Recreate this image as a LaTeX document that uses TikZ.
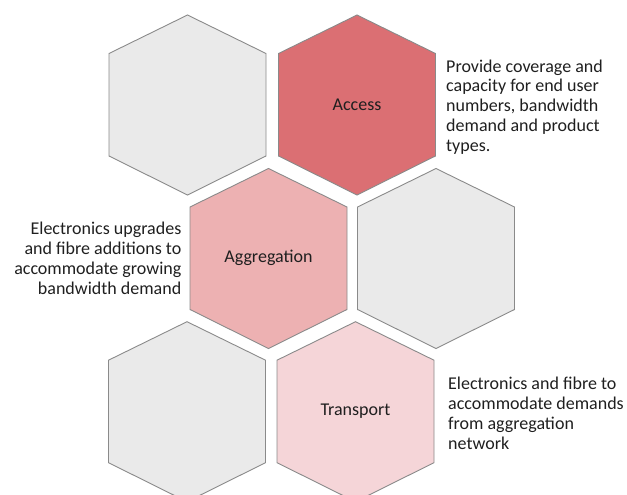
\documentclass[tikz,border=0pt]{standalone}
\usepackage{fontspec}
\setmainfont{Carlito}
\definecolor{hexgray}{HTML}{EAEAEA}
\definecolor{accessred}{HTML}{DB6F73}
\definecolor{aggpink}{HTML}{EDB1B2}
\definecolor{transpink}{HTML}{F5D5D8}
\definecolor{hexline}{HTML}{8A8A8A}
\tikzset{
  hexshape/.style={draw=hexline, line width=0.9pt, line join=miter},
  hexlabel/.style={inner sep=0pt, font=\fontsize{18}{19.7}\selectfont, text=black!88},
  desc/.style={inner sep=0pt, font=\fontsize{18}{19.7}\selectfont, text=black!88}
}
\newcommand{\hexpath}[3]{%
  \path[hexshape, fill=#3] (#1,#2-90) -- (#1+78.5,#2-51.5) -- (#1+78.5,#2+51) --
    (#1,#2+90) -- (#1-78.5,#2+51) -- (#1-78.5,#2-51.5) -- cycle;}
\begin{document}
\begin{tikzpicture}[x=1pt,y=-1pt]
\useasboundingbox (0,0) rectangle (627,495);
% row 1
\hexpath{187.5}{105}{hexgray}
\hexpath{357}{105}{accessred}
% row 2
\hexpath{268.5}{258.5}{aggpink}
\hexpath{436}{258.5}{hexgray}
% row 3
\hexpath{187}{411.7}{hexgray}
\hexpath{355.5}{411.7}{transpink}
% labels
\node[hexlabel] (access) at (357,104.5) {Access};
\node[hexlabel] (aggregation) at (268.5,258) {Aggregation};
\node[hexlabel] (transport) at (355.5,411.5) {Transport};
% descriptions (base anchor = baseline of last line)
\node[desc, anchor=base west, align=left] (accessdesc) at (446,151)
  {Provide coverage and\\capacity for end user\\numbers, bandwidth\\demand and product\\types.};
\node[desc, anchor=base east, align=right] (aggdesc) at (181.5,294)
  {Electronics upgrades\\and fibre additions to\\accommodate growing\\bandwidth demand};
\node[desc, anchor=base west, align=left] (transdesc) at (448,449)
  {Electronics and fibre to\\accommodate demands\\from aggregation\\network};
\end{tikzpicture}
\end{document}
